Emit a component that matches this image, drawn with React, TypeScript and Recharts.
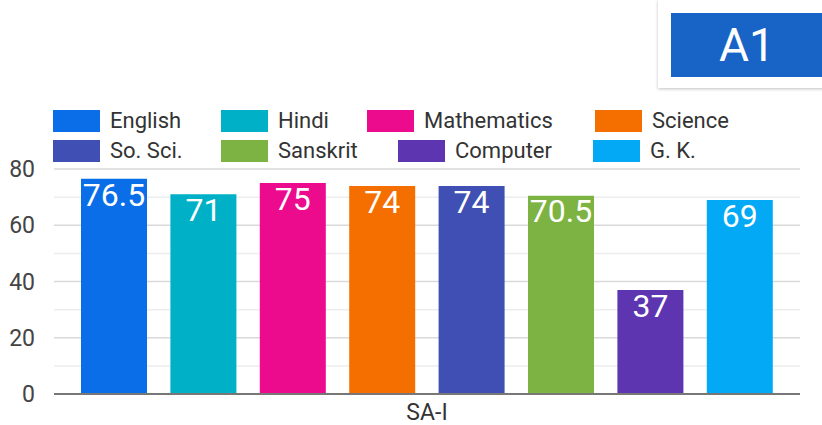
import React from "react";
import { BarChart, Bar, XAxis, YAxis, CartesianGrid, LabelList } from "recharts";

// ---- data ----
const categories = ["SA-I"];
const subjects = ["English", "Hindi", "Mathematics", "Science", "So. Sci.", "Sanskrit", "Computer", "G. K."];
const scores = [76.5, 71, 75, 74, 74, 70.5, 37, 69];
const colors = ["#0a6ee8", "#00b0c6", "#ec0a8d", "#f56f00", "#3f4fb3", "#7cb342", "#5e35b1", "#03a9f4"];
const gridTicks = [0, 10, 20, 30, 40, 50, 60, 70, 80];
const labelStep = 20;
const badgeText = "A1";

// ---- layout (styles only) ----
const legendLayout = [
  { left: 53, top: 110 },
  { left: 221, top: 110 },
  { left: 367, top: 110 },
  { left: 595, top: 110 },
  { left: 53, top: 140 },
  { left: 221, top: 140 },
  { left: 398, top: 140 },
  { left: 593, top: 140 },
];

const keys = subjects.map((_, i) => `s${i}`);
const chartData = categories.map((c) => {
  const row: Record<string, any> = { name: c };
  keys.forEach((k, i) => {
    row[k] = scores[i];
  });
  return row;
});

const FONT = "Roboto, 'Noto Sans', Arial, sans-serif";

const gridLine = (props: any) => {
  const major = props.index % 2 === 0;
  return (
    <line
      key={props.key}
      x1={props.x1}
      x2={props.x2}
      y1={props.y1}
      y2={props.y2}
      stroke={major ? "#d9d9d9" : "#ededed"}
      strokeWidth={1.5}
      fill="none"
    />
  );
};

export default function App() {
  return (
    <div style={{ position: "absolute", left: 0, top: 0, width: 822, height: 425, background: "#fff", fontFamily: FONT, overflow: "hidden" }}>
      <BarChart
        width={822}
        height={425}
        data={chartData}
        margin={{ top: 169, right: 22, left: 0, bottom: 0 }}
        barGap={23.4}
        barSize={66}
      >
        <CartesianGrid vertical={false} horizontal={gridLine} />
        <XAxis
          dataKey="name"
          height={31}
          tickLine={false}
          tickSize={0}
          tickMargin={10}
          axisLine={{ stroke: "#777", strokeWidth: 2 }}
          tick={{ fill: "#333", fontSize: 23, fontFamily: FONT }}
        />
        <YAxis
          width={54}
          domain={[0, 80]}
          ticks={gridTicks}
          interval={0}
          tickFormatter={(v: number) => (v % labelStep === 0 ? String(v) : "")}
          axisLine={false}
          tickLine={false}
          tickSize={0}
          tickMargin={19}
          tick={{ fill: "#444", fontSize: 23, fontFamily: FONT }}
        />
        {keys.map((k, i) => (
          <Bar key={k} dataKey={k} name={subjects[i]} fill={colors[i]} isAnimationActive={false}>
            <LabelList
              dataKey={k}
              position="insideTop"
              offset={4}
              fill="#fff"
              fontSize={32}
              fontFamily={FONT}
            />
          </Bar>
        ))}
      </BarChart>

      {/* legend */}
      {subjects.map((s, i) => (
        <div
          key={s}
          style={{
            position: "absolute",
            left: legendLayout[i].left,
            top: legendLayout[i].top,
            height: 22,
            display: "flex",
            alignItems: "center",
            whiteSpace: "nowrap",
          }}
        >
          <div style={{ width: 47, height: 22, background: colors[i] }} />
          <span style={{ marginLeft: 10, fontSize: 22, color: "#333", fontFamily: FONT, lineHeight: "22px" }}>{s}</span>
        </div>
      ))}

      {/* badge */}
      <div
        style={{
          position: "absolute",
          left: 658,
          top: 0,
          width: 170,
          height: 88,
          background: "#fff",
          boxShadow: "0 1px 3px rgba(0,0,0,0.25)",
        }}
      />
      <div
        style={{
          position: "absolute",
          left: 671,
          top: 13,
          width: 160,
          height: 64,
          background: "#1763c6",
          color: "#fff",
          fontSize: 46,
          fontFamily: FONT,
          display: "flex",
          alignItems: "center",
          paddingLeft: 48,
          boxSizing: "border-box",
        }}
      >
        {badgeText}
      </div>
    </div>
  );
}
